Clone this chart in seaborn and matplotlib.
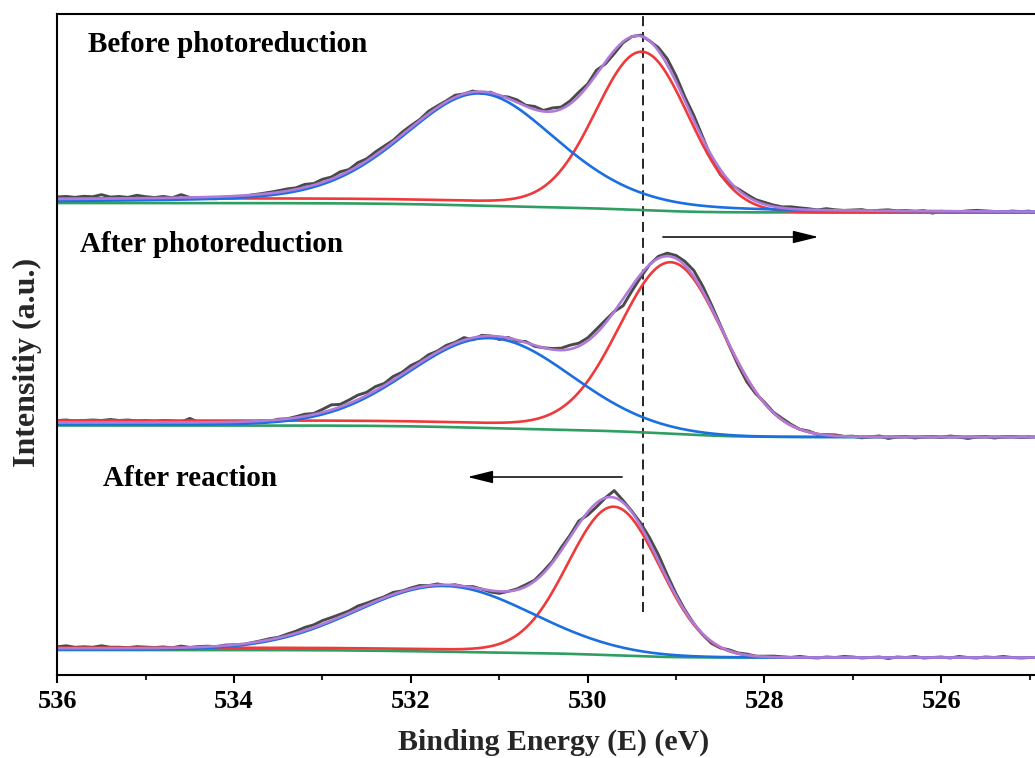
import math
import numpy as np
import pandas as pd
import matplotlib
matplotlib.use("Agg")
import matplotlib.pyplot as plt
from matplotlib.ticker import MultipleLocator
import seaborn as sns

# ---------------- data (y in stacked plot units) ----------------
samples = ["Before photoreduction", "After photoreduction", "After reaction"]

# Shirley background levels (high-BE side, low-BE side)
bg_left = [472.0, 249.5, 25.0]
bg_right = [462.5, 238.0, 17.5]

# lattice oxygen component (red)
lat_center = [529.38, 529.05, 529.70]
lat_fwhm = [1.23, 1.37, 1.22]
lat_height = [156.0, 169.0, 147.5]
lat_offset = [4.7, 5.0, 2.3]

# adsorbed / defect oxygen component (blue)
ads_center = [531.22, 531.10, 531.62]
ads_fwhm = [2.07, 2.15, 2.32]
ads_height = [112.0, 89.5, 65.5]
ads_eta = [0.3, 0.0, 0.0]
ads_offset = [0.5, 1.0, 0.5]

# envelope extra offset
env_offset = [2.5, 3.0, 1.7]

# raw spectra: measured deviation from the fitted envelope, 536.0 -> 525.0 eV, 0.1 eV step
raw_start, raw_stop, raw_step = 536.0, 525.0, 0.1
top_resid = [2, 2.5, 1.5, 2.5, 2, 4, 1.5, 2, 1, 3,
             1.5, 0.5, 1.5, 0, 3, 0, -1, -1.5, -2, -1.5,
             -2, -1, 0, 0.5, 1, 1.5, 2, 1.5, 3, 1.5,
             3, 2, 3.5, 1.5, 3.5, 2, 3, 2.5, 1.5, 2.5,
             2, 1, 2.5, 1.5, 1, 2, 0, 1, -1.5, 0.5,
             -1, 1.5, 2.5, 1, 3, 1, 3.5, 2, 3, 4,
             2, 4, -2, -3, -1, 0, 1, 0, 3, 6,
             6, 4, 5, 2, -3, -5, -3, 1, 2, 1.5,
             2, 1.5, 1, 2, 1.5, 1, 0, 1.5, 0.5, 0,
             0.5, 1, -0.5, 0.5, 1, 0, 0.5, -0.5, 0.5, -2,
             0, -1, -0.5, 0.5, 1, 0.5, 0, -0.5, 0.5, 0, 0.5]
mid_resid = [2, 2.5, 1.5, 2, 2.5, 2, 3, 2, 2.5, 1.5,
             2, 1, 2, 1.5, 0.5, 4, 0, -1, -0.5, -1.5,
             -1, -2, -0.5, 0, -1, 0.5, 0, 1, 2, 1,
             3, 5, 2.5, 3.5, 4.5, 3, 4, 2, 3.5, 2,
             3, 1.5, 2.5, 1, 2, 1, 2.5, -2, 1, 0,
             -3, 0.5, -1, 1, -1, 0, 1, 2, 4, 3,
             3, 4, 3, 0, -7, -5, -3, 0, 2, 3,
             3, 4, 6, 5, 3, 1, -1, -3, -4, -2,
             1, 0.5, 1.5, 1, 0, 1, -0.5, 0.5, 1, 0,
             0.5, -1, 0, 1, -1.5, 0, 0.5, -1, 0, 0.5,
             -0.5, 1, 0, -1.5, 0, 0.5, -1, 0, 0.5, -0.5, 0]
bot_resid = [1.5, 2.5, 1, 1.5, 1, 2.5, 1, 1, 0.5, 1.5,
             1, 0.5, 1, 0, 1.5, 0, 0.5, 0.5, -0.5, 0.5,
             0, -1, 0, 0.5, 1, 0.5, 1.5, 2, 3, 2.5,
             3.5, 3, 2.5, 2, 3, 2, 1.5, 1, 2, 0.5,
             1, 1.5, 0, 1, -1, 0.5, -0.5, 1, 0, -1.5,
             -2, 0, 1, 2, 1, 2, 1.5, 3, 2, 3,
             -3, -4, 0, 7, 2, 1, 3, 5, 6, 4,
             2, 1, 0, -1, -2, -1, 1, 0.5, 1, 0,
             0.5, 1, 0.5, 0, 1, 0, -0.5, 0.5, 0, 1,
             0.5, -0.5, 0, 0.5, -1, 0.5, 0, 1, -0.5, 0,
             0.5, -0.5, 1, 0, -0.5, 0.5, 0, 1, 0, -0.5, 0]
residuals = [top_resid, mid_resid, bot_resid]

x_ticks = [536, 534, 532, 530, 528, 526]
ref_energy = 529.37          # dashed reference line
ref_span = (63, 661)
arrow_top = (529.15, 527.39, 438)
arrow_bot = (529.61, 531.36, 198)
label_pos = [(535.65, 631), (535.74, 430), (535.48, 197)]

# ---------------- model helpers ----------------
_erf = np.vectorize(math.erf)


def pv(E, c, w, h, eta):
    x = (E - c) / w
    g = np.exp(-4 * np.log(2) * x ** 2)
    l = 1.0 / (1 + 4 * x ** 2)
    return h * ((1 - eta) * g + eta * l)


def pv_area(w, h, eta):
    return h * w * ((1 - eta) * 1.0645 + eta * 1.5708)


def pv_cum(E, c, w, eta):
    sigma = w / (2 * np.sqrt(2 * np.log(2)))
    G = 0.5 * (1 + _erf((E - c) / (sigma * np.sqrt(2))))
    L = 0.5 + np.arctan(2 * (E - c) / w) / np.pi
    aG = (1 - eta) * 1.0645
    aL = eta * 1.5708
    return (aG * G + aL * L) / (aG + aL)


def curves(E, i):
    lo, hi = 525.0, 536.0
    def norm(f):
        a, b = f(np.array([lo])), f(np.array([hi]))
        return (f(E) - a) / (b - a)
    Ar = pv_area(lat_fwhm[i], lat_height[i], 0.0)
    Ab = pv_area(ads_fwhm[i], ads_height[i], ads_eta[i])
    cr = lambda e: pv_cum(e, lat_center[i], lat_fwhm[i], 0.0)
    cb = lambda e: pv_cum(e, ads_center[i], ads_fwhm[i], ads_eta[i])
    ct = lambda e: (Ar * cr(e) + Ab * cb(e)) / (Ar + Ab)
    Cr, Cb, Ct = norm(cr), norm(cb), norm(ct)
    gr = pv(E, lat_center[i], lat_fwhm[i], lat_height[i], 0.0)
    gb = pv(E, ads_center[i], ads_fwhm[i], ads_height[i], ads_eta[i])
    green = bg_right[i] + (bg_left[i] - bg_right[i]) * Ct
    red = green + gr + lat_offset[i] * Cr
    blue = green + gb + ads_offset[i] * Cb
    env = green + gr + gb + env_offset[i] * Ct
    return green, red, blue, env


# ---------------- plotting ----------------
sns.set_theme(style="ticks")
plt.rcParams["font.family"] = ["Liberation Serif", "DejaVu Serif"]
plt.rcParams["font.weight"] = "bold"

W, H = 1035, 758
fig = plt.figure(figsize=(W / 100, H / 100), dpi=100)
ax = fig.add_axes([57.3 / W, 1 - 675 / H, 1 - 57.3 / W, (675 - 14) / H])

E_fit = np.round(np.arange(536.0, 524.89, -0.02), 3)
n_raw = len(top_resid)
E_raw = np.round(raw_start - raw_step * np.arange(n_raw), 2)

col_raw = "#4a4a4a"
col_env = "#b07ad8"
col_red = "#ee3a3a"
col_blue = "#1b6fe0"
col_green = "#2f9e62"
lw = 1.9

for i, name in enumerate(samples):
    green, red, blue, env = curves(E_fit, i)
    _, _, _, env_raw = curves(E_raw, i)
    raw = env_raw + np.array(residuals[i])
    sns.lineplot(x=E_raw, y=raw, ax=ax, color=col_raw, linewidth=2.1, sort=False, estimator=None)
    sns.lineplot(x=E_fit, y=green, ax=ax, color=col_green, linewidth=lw, sort=False, estimator=None)
    sns.lineplot(x=E_fit, y=red, ax=ax, color=col_red, linewidth=lw, sort=False, estimator=None)
    sns.lineplot(x=E_fit, y=blue, ax=ax, color=col_blue, linewidth=lw, sort=False, estimator=None)
    sns.lineplot(x=E_fit, y=env, ax=ax, color=col_env, linewidth=lw, sort=False, estimator=None)
    ax.text(label_pos[i][0], label_pos[i][1], name, fontsize=21, fontweight="bold",
            ha="left", va="center", color="black")

ax.plot([ref_energy, ref_energy], list(ref_span), color="black", lw=1.2,
        linestyle=(0, (6, 3.5)), zorder=1)

for (x0, x1, yy) in [arrow_top, arrow_bot]:
    ax.annotate("", xy=(x1, yy), xytext=(x0, yy),
                arrowprops=dict(arrowstyle="-|>,head_length=1.3,head_width=0.32",
                                color="black", lw=1.1, shrinkA=0, shrinkB=0))

ax.set_xlim(536, 524.94)
ax.set_ylim(0, 661)
ax.set_xticks(x_ticks)
ax.set_xticklabels([str(t) for t in x_ticks])
ax.xaxis.set_minor_locator(MultipleLocator(1))
ax.set_yticks([])
ax.tick_params(axis="x", which="major", direction="out", length=6, width=1.5,
               labelsize=19, pad=5, colors="black")
ax.tick_params(axis="x", which="minor", direction="out", length=3.5, width=1.5)
for lbl in ax.get_xticklabels():
    lbl.set_fontweight("bold")
for s in ["left", "bottom", "top"]:
    ax.spines[s].set_linewidth(1.5)
    ax.spines[s].set_color("black")
ax.spines["right"].set_visible(False)
ax.set_xlabel("")
ax.set_ylabel("")

fig.text(554 / W, 1 - 742 / H, "Binding Energy (E) (eV)", fontsize=21.5,
         fontweight="bold", ha="center", va="center")
fig.text(27.5 / W, 1 - 362 / H, "Intensitiy (a.u.)", fontsize=23,
         fontweight="bold", ha="center", va="center", rotation=90)

fig.savefig("out.png", dpi=100)
